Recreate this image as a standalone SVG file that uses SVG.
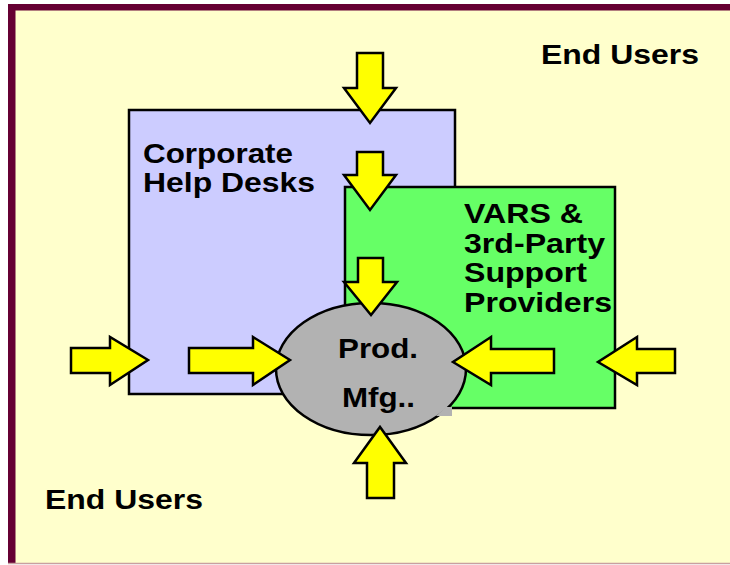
<svg xmlns="http://www.w3.org/2000/svg" width="730" height="565" viewBox="0 0 730 565">
<style>
.lbl{font-family:"Liberation Sans",Arial,sans-serif;font-weight:bold;font-size:28px;fill:#000}
.arr{fill:#FFFF00;stroke:#000;stroke-width:2.5;stroke-linejoin:miter}
.box{stroke:#000;stroke-width:2.5}
</style>
<rect x="0" y="0" width="730" height="565" fill="#FFFFFF"/>
<rect x="8" y="4" width="722" height="560" fill="#FFFFCC"/>
<rect x="8" y="4" width="722" height="6.5" fill="#660033"/>
<rect x="8" y="4" width="7.5" height="560" fill="#660033"/>
<line x1="8" y1="563.5" x2="730" y2="563.5" stroke="#C8A0A0" stroke-width="1.5"/>

<g id="corporate-help-desks">
<rect class="box" x="129" y="110" width="326" height="284" fill="#CCCCFF"/>
<text class="lbl" x="143" y="163" textLength="150" lengthAdjust="spacingAndGlyphs">Corporate</text>
<text class="lbl" x="143" y="192" textLength="172" lengthAdjust="spacingAndGlyphs">Help Desks</text>
</g>

<g id="vars">
<rect class="box" x="345" y="187" width="270" height="221" fill="#66FF66"/>
<text class="lbl" x="464" y="223" textLength="119" lengthAdjust="spacingAndGlyphs">VARS &amp;</text>
<text class="lbl" x="464" y="253" textLength="141" lengthAdjust="spacingAndGlyphs">3rd-Party</text>
<text class="lbl" x="464" y="282" textLength="123" lengthAdjust="spacingAndGlyphs">Support</text>
<text class="lbl" x="464" y="312" textLength="148" lengthAdjust="spacingAndGlyphs">Providers</text>
</g>

<g id="prod-mfg">
<ellipse cx="371" cy="369" rx="95" ry="66" fill="#B2B2B2" stroke="#000" stroke-width="2.5"/>
<path d="M446,407 L452,407 L452,416 L436,416 Z" fill="#B2B2B2"/>
<text class="lbl" x="338" y="358" textLength="80" lengthAdjust="spacingAndGlyphs">Prod.</text>
<text class="lbl" x="342" y="407" textLength="73" lengthAdjust="spacingAndGlyphs">Mfg..</text>
</g>

<g id="end-users-top">
<text class="lbl" x="541" y="64" textLength="158" lengthAdjust="spacingAndGlyphs">End Users</text>
</g>
<g id="end-users-bottom">
<text class="lbl" x="45" y="509" textLength="158" lengthAdjust="spacingAndGlyphs">End Users</text>
</g>

<g id="connectors">
<polygon class="arr" points="357,53 383,53 383,88 396,88 370,123 344,88 357,88"/>
<polygon class="arr" points="357,152 383,152 383,175 396,175 370,210 344,175 357,175"/>
<polygon class="arr" points="358,258 383,258 383,282 397,282 371,315 344,282 358,282"/>
<polygon class="arr" points="367,498 394,498 394,463 406,463 380,427 354,463 367,463"/>
<polygon class="arr" points="71,348 110,348 110,337 148,360 110,385 110,373 71,373"/>
<polygon class="arr" points="189,348 253,348 253,337 290,360 253,385 253,373 189,373"/>
<polygon class="arr" points="554,349 491,349 491,337 453,362 491,385 491,373 554,373"/>
<polygon class="arr" points="675,349 637,349 637,337 598,362 637,385 637,373 675,373"/>
</g>
</svg>
